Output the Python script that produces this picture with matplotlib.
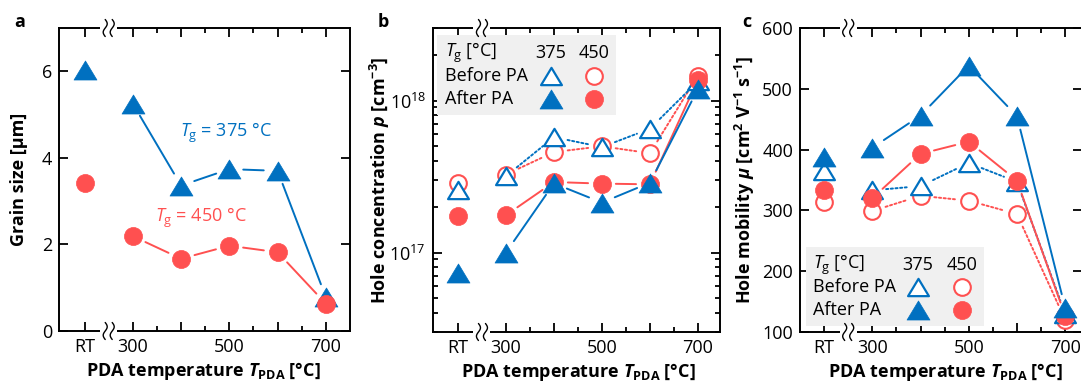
import matplotlib
matplotlib.use('Agg')
import numpy as np
import matplotlib.pyplot as plt
from matplotlib.path import Path
from matplotlib.ticker import FixedLocator, LogLocator, NullFormatter
import matplotlib.transforms as mtrans

FONT = 'Open Sans'
plt.rcParams['font.family'] = [FONT, 'DejaVu Sans']
plt.rcParams['mathtext.fontset'] = 'custom'
plt.rcParams['mathtext.rm'] = FONT
plt.rcParams['mathtext.it'] = FONT + ':italic'
plt.rcParams['mathtext.bf'] = FONT + ':bold'
plt.rcParams['mathtext.bfit'] = FONT + ':bold:italic'

# ---------------- data ----------------
temps = [200, 300, 400, 500, 600, 700]          # RT drawn at position 200
xtick_pos = [200, 300, 400, 500, 600, 700]
xtick_labels = ['RT', '300', '', '500', '', '700']
xminor_pos = [350, 450, 550, 650]
break_pos = 250

grain_375 = [6.02, 5.25, 3.36, 3.74, 3.70, 0.78]
grain_450 = [3.42, 2.19, 1.67, 1.97, 1.82, 0.63]

p_before_375 = [2.58e17, 3.18e17, 5.74e17, 4.94e17, 6.52e17, 1.34e18]
p_before_450 = [2.87e17, 3.26e17, 4.58e17, 5.00e17, 4.50e17, 1.46e18]
p_after_375 = [7.3e16, 1.00e17, 2.85e17, 2.13e17, 2.88e17, 1.19e18]
p_after_450 = [1.73e17, 1.76e17, 2.91e17, 2.84e17, 2.81e17, 1.37e18]

mu_before_375 = [365, 333, 340, 378, 347, 130]
mu_before_450 = [313, 299, 324, 316, 294, 120]
mu_after_375 = [388, 403, 456, 538, 455, 140]
mu_after_450 = [334, 320, 393, 413, 349, 127]

BLUE = '#0070C0'
RED = '#FF5050'
FS = 13
DOT = (0, (1.1, 1.3))

tri = Path([(0, 0.83), (-1, -0.83), (1, -0.83), (0, 0.83)],
           [Path.MOVETO, Path.LINETO, Path.LINETO, Path.CLOSEPOLY])

STY = {
    'tri_f': dict(marker=tri, ms=16.5, mfc=BLUE, mec=BLUE, mew=0.5),
    'tri_o': dict(marker=tri, ms=15.0, mfc='white', mec=BLUE, mew=1.6),
    'cir_f': dict(marker='o', ms=13, mfc=RED, mec=RED, mew=0.5),
    'cir_o': dict(marker='o', ms=12, mfc='white', mec=RED, mew=1.5),
}

fig = plt.figure(figsize=(10.81, 3.83), dpi=100)
W, H = 1081, 383


def add_axes(l, r, t, b):
    return fig.add_axes([l / W, 1 - b / H, (r - l) / W, (b - t) / H])


def connect(ax, xs, ys, color, ls, shrink):
    for i in range(1, len(xs) - 1):
        ax.annotate('', xy=(xs[i + 1], ys[i + 1]), xytext=(xs[i], ys[i]),
                    arrowprops=dict(arrowstyle='-', color=color, lw=1.4, ls=ls,
                                    shrinkA=shrink, shrinkB=shrink),
                    zorder=2)


def markers(ax, xs, ys, key, z):
    ax.plot(xs, ys, ls='none', zorder=z, clip_on=False, **STY[key])


def draw_break(ax):
    tr = mtrans.blended_transform_factory(ax.transData, ax.transAxes)
    # squiggle shape in pixels, relative to the break point on the spine
    t = np.linspace(0, 1, 40)
    sy = (t - 0.5) * 17
    sx = -2.0 * np.sin(2 * np.pi * t)
    for yy in (0, 1):
        x0, y0 = tr.transform((break_pos, yy))
        off = mtrans.Affine2D().translate(x0, y0)
        ax.add_patch(plt.Rectangle((-8.5, -3), 17, 6, transform=off,
                                   facecolor='white', edgecolor='none',
                                   zorder=9, clip_on=False))
        for dx in (-3.5, 3.5):
            ax.plot(sx + dx, sy, transform=off, color='black', lw=1.0,
                    zorder=10, clip_on=False, solid_capstyle='round')


def style(ax, xlim):
    ax.set_xlim(*xlim)
    ax.xaxis.set_major_locator(FixedLocator(xtick_pos))
    ax.set_xticklabels(xtick_labels)
    ax.xaxis.set_minor_locator(FixedLocator(xminor_pos))
    for s in ax.spines.values():
        s.set_linewidth(1.4)
    ax.tick_params(which='both', direction='in', top=True, right=True,
                   width=1.3, labelsize=FS)
    ax.tick_params(which='major', length=6.5, pad=5)
    ax.tick_params(which='minor', length=3.5)
    ax.set_xlabel(r'PDA temperature $\mathbfit{T}_\mathbf{PDA}$ [°C]',
                  fontsize=FS, fontweight='bold')


def legend_box(ax, bx, by, bw, bh, tx, cx1, cx2, rows):
    ax.add_patch(plt.Rectangle((bx, by), bw, bh, transform=ax.transAxes,
                               facecolor='#f0f0f0', edgecolor='none', zorder=5))
    ax.text(tx, rows[0], r'$T_\mathrm{g}$ [°C]', transform=ax.transAxes,
            fontsize=FS, va='center', zorder=6)
    ax.text(cx1, rows[0], '375', transform=ax.transAxes, fontsize=FS,
            va='center', ha='center', zorder=6)
    ax.text(cx2, rows[0], '450', transform=ax.transAxes, fontsize=FS,
            va='center', ha='center', zorder=6)
    ax.text(tx, rows[1], 'Before PA', transform=ax.transAxes, fontsize=FS,
            va='center', zorder=6)
    ax.text(tx, rows[2], 'After PA', transform=ax.transAxes, fontsize=FS,
            va='center', zorder=6)
    for key, xx, yy in (('tri_o', cx1, rows[1]), ('cir_o', cx2, rows[1]),
                        ('tri_f', cx1, rows[2]), ('cir_f', cx2, rows[2])):
        ax.plot([xx], [yy], transform=ax.transAxes, ls='none', zorder=7,
                clip_on=False, **STY[key])


# ---------------- panel a ----------------
axa = add_axes(59, 350, 28, 331)
style(axa, (147, 750))
axa.set_ylim(0, 7)
axa.set_yticks([0, 2, 4, 6])
connect(axa, temps, grain_375, BLUE, '-', 10)
connect(axa, temps, grain_450, RED, '-', 10)
markers(axa, temps, grain_375, 'tri_f', 3)
markers(axa, temps, grain_450, 'cir_f', 4)
axa.text(398, 4.57, r'$T_\mathrm{g}$ = 375 °C', color=BLUE, fontsize=FS,
         va='center')
axa.text(346, 2.61, r'$T_\mathrm{g}$ = 450 °C', color=RED, fontsize=FS,
         va='center')
axa.set_ylabel('Grain size [μm]', fontsize=FS, fontweight='bold')
axa.yaxis.set_label_coords(-0.105, 0.5)
axa.xaxis.set_label_coords(0.495, -0.095)
draw_break(axa)
fig.text(20 / W, 1 - 22 / H, 'a', fontsize=FS, fontweight='bold',
         ha='center', va='center')

# ---------------- panel b ----------------
axb = add_axes(433, 720, 28, 332)
axb.set_yscale('log')
style(axb, (148, 746))
axb.set_ylim(3e16, 3e18)
axb.yaxis.set_major_locator(LogLocator(base=10, numticks=10))
axb.yaxis.set_minor_locator(LogLocator(base=10, subs=range(2, 10), numticks=20))
axb.yaxis.set_minor_formatter(NullFormatter())
connect(axb, temps, p_before_450, RED, DOT, 10)
connect(axb, temps, p_before_375, BLUE, DOT, 10)
connect(axb, temps, p_after_450, RED, '-', 10)
connect(axb, temps, p_after_375, BLUE, '-', 10)
markers(axb, temps, p_before_450, 'cir_o', 3)
markers(axb, temps, p_before_375, 'tri_o', 4)
markers(axb, temps, p_after_450, 'cir_f', 5)
markers(axb, temps, p_after_375, 'tri_f', 6)
legend_box(axb, 0.014, 0.714, 0.624, 0.263, 0.042, 0.411, 0.561,
           (0.918, 0.842, 0.766))
axb.set_ylabel(r'Hole concentration $\mathbfit{p}$ [cm$^{\mathbf{-3}}$]',
               fontsize=FS, fontweight='bold')
axb.yaxis.set_label_coords(-0.143, 0.5)
axb.xaxis.set_label_coords(0.505, -0.095)
draw_break(axb)
fig.text(383 / W, 1 - 22 / H, 'b', fontsize=FS, fontweight='bold',
         ha='center', va='center')

# ---------------- panel c ----------------
axc = add_axes(800, 1082, 28, 332)
style(axc, (150, 735))
axc.set_ylim(100, 600)
axc.set_yticks([100, 200, 300, 400, 500, 600])
connect(axc, temps, mu_before_450, RED, DOT, 10)
connect(axc, temps, mu_before_375, BLUE, DOT, 10)
connect(axc, temps, mu_after_450, RED, '-', 10)
connect(axc, temps, mu_after_375, BLUE, '-', 10)
markers(axc, temps, mu_before_450, 'cir_o', 3)
markers(axc, temps, mu_before_375, 'tri_o', 4)
markers(axc, temps, mu_after_450, 'cir_f', 5)
markers(axc, temps, mu_after_375, 'tri_f', 6)
legend_box(axc, 0.021, 0.020, 0.631, 0.260, 0.046, 0.418, 0.574,
           (0.220, 0.148, 0.072))
axc.set_ylabel(r'Hole mobility $\mathbfit{\mu}$ [cm$^\mathbf{2}$ V$^{\mathbf{-1}}$ s$^{\mathbf{-1}}$]',
               fontsize=FS, fontweight='bold')
axc.yaxis.set_label_coords(-0.152, 0.5)
axc.xaxis.set_label_coords(0.514, -0.095)
draw_break(axc)
fig.text(747 / W, 1 - 22 / H, 'c', fontsize=FS, fontweight='bold',
         ha='center', va='center')

fig.savefig('out.png', dpi=100)
